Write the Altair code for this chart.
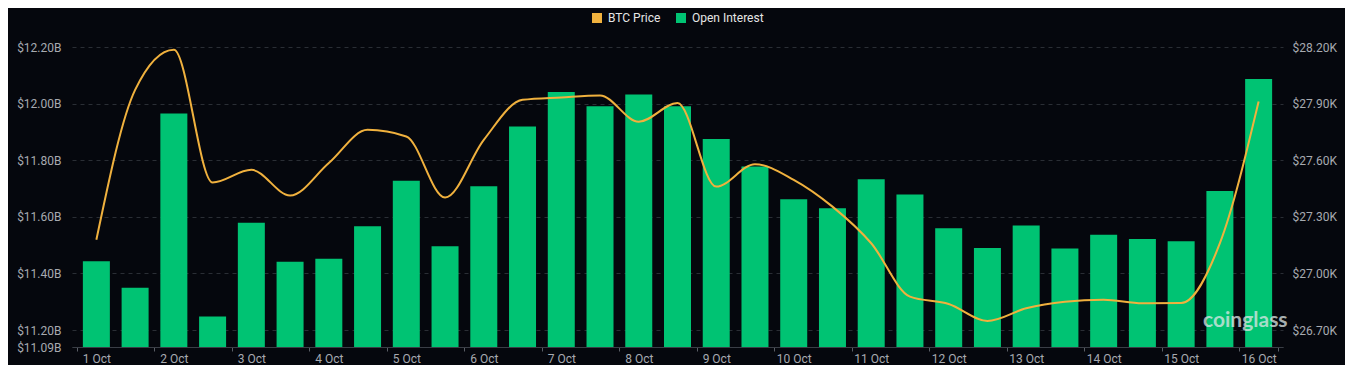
import altair as alt
import pandas as pd

# ---- data ----
day_labels = ["1 Oct", "2 Oct", "3 Oct", "4 Oct", "5 Oct", "6 Oct", "7 Oct", "8 Oct",
              "9 Oct", "10 Oct", "11 Oct", "12 Oct", "13 Oct", "14 Oct", "15 Oct", "16 Oct"]

# open interest, billions USD (one value every 12h)
open_interest = [11.443, 11.349, 11.965, 11.248, 11.579, 11.441, 11.452, 11.567,
                 11.727, 11.496, 11.708, 11.919, 12.041, 11.991, 12.032, 11.991,
                 11.875, 11.778, 11.662, 11.630, 11.733, 11.679, 11.560, 11.490,
                 11.569, 11.488, 11.537, 11.522, 11.514, 11.691, 12.087]

# BTC price, thousands USD
btc_price = [27.178, 27.973, 28.186, 27.482, 27.549, 27.413, 27.585, 27.761,
             27.726, 27.402, 27.708, 27.920, 27.933, 27.943, 27.804, 27.903,
             27.460, 27.579, 27.496, 27.354, 27.160, 26.877, 26.838, 26.748,
             26.815, 26.850, 26.861, 26.842, 26.843, 27.160, 27.911]

left_ticks = [11.14, 11.20, 11.40, 11.60, 11.80, 12.00, 12.20]
left_bottom_label = "$11.09B"
right_ticks = [26.70, 27.00, 27.30, 27.60, 27.90, 28.20]
series_names = ["BTC Price", "Open Interest"]
watermark = ["coinglass"]

# ---- table ----
n = len(open_interest)
df = pd.DataFrame({"idx": list(range(n)), "oi": open_interest, "btc": btc_price})

BG = "#05070d"
GREEN = "#00c373"
ORANGE = "#f0b13e"
AXIS_TXT = "#a7aab0"
GRID = "#2a2e35"

label_array = "[" + ",".join("'" + s + "'" for s in day_labels) + "]"
x_tick_values = [i - 0.5 for i in range(0, n, 2)] + [n - 0.5] + list(range(0, n, 2))

x_axis = alt.Axis(
    values=x_tick_values,
    labelExpr=f"datum.value % 2 == 0 ? {label_array}[datum.value / 2] : ''",
    labelOverlap=False,
    labelFlush=False,
    labelColor=AXIS_TXT,
    labelFontSize=12,
    labelFont="Roboto",
    labelPadding=2,
    tickSize=4,
    tickColor="#5a5e66",
    tickOpacity={"condition": {"test": "datum.value % 1 != 0", "value": 1}, "value": 0},
    domainColor="#3a3e46",
    grid=False,
    title=None,
)

x_enc = alt.X("idx:Q", scale=alt.Scale(domain=[-0.5, n - 0.5], nice=False, zero=False), axis=x_axis)

color_scale = alt.Scale(domain=series_names, range=[ORANGE, GREEN])
legend = alt.Legend(
    orient="none", direction="horizontal", legendX=519, legendY=-35,
    title=None, symbolType="square", symbolSize=100, symbolStrokeWidth=0,
    labelColor="#e6e6e6", labelFontSize=12, labelFont="Roboto",
    labelOffset=5, columnPadding=14,
)

bars = alt.Chart(df).mark_bar(size=27, clip=True).encode(
    x=x_enc,
    y=alt.Y(
        "oi:Q",
        scale=alt.Scale(domain=[11.14, 12.20], nice=False, zero=False),
        axis=alt.Axis(
            orient="left", values=left_ticks,
            labelExpr=f"datum.value < 11.15 ? '{left_bottom_label}' : '$' + format(datum.value, '.2f') + 'B'",
            labelColor=AXIS_TXT, labelFontSize=12, labelFont="Roboto",
            ticks=False, tickSize=0, labelPadding=11, domain=False,
            grid=True, gridColor=GRID, gridDash=[4, 4], gridWidth=1,
            title=None,
        ),
    ),
    color=alt.Color("s:N", scale=color_scale, legend=legend),
).transform_calculate(s="'Open Interest'")

line = alt.Chart(df).mark_line(interpolate="monotone", strokeWidth=2, clip=True).encode(
    x=x_enc,
    y=alt.Y(
        "btc:Q",
        scale=alt.Scale(domain=[26.61, 28.20], nice=False, zero=False),
        axis=alt.Axis(
            orient="right", values=right_ticks,
            labelExpr="'$' + format(datum.value, '.2f') + 'K'",
            labelColor=AXIS_TXT, labelFontSize=12, labelFont="Roboto",
            ticks=False, tickSize=0, labelPadding=9, domain=False,
            grid=False, title=None,
        ),
    ),
    color=alt.Color("s:N", scale=color_scale, legend=legend),
).transform_calculate(s="'BTC Price'")

wm = alt.Chart(pd.DataFrame({"t": watermark})).mark_text(
    align="left", baseline="middle", fontSize=21, fontWeight="bold",
    font="Lato", color="#dfe6e6", opacity=0.75,
).encode(text="t:N", x=alt.value(1131), y=alt.value(274))

chart = (
    alt.layer(bars, line, wm)
    .resolve_scale(y="independent")
    .properties(
        width=1211, height=300,
        autosize=alt.AutoSizeParams(type="none"),
        padding={"left": 64, "top": 39, "right": 62, "bottom": 18},
        background=BG,
    )
    .configure_view(stroke=None)
)

chart.save("out.html", embed_options={"renderer": "svg", "actions": False})
